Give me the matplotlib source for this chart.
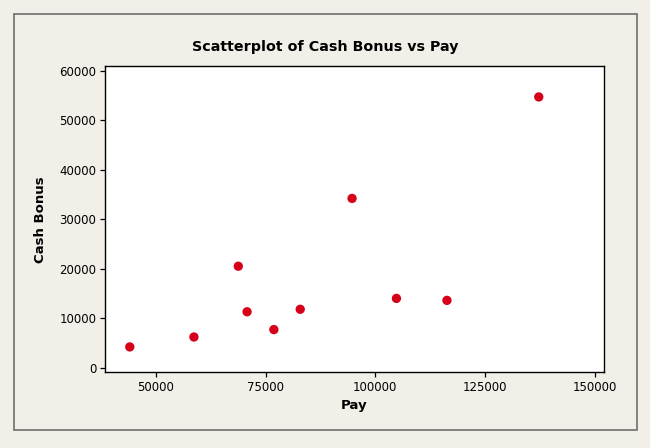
import matplotlib
matplotlib.use("Agg")
import matplotlib.pyplot as plt
from matplotlib.patches import Rectangle

# values
pay = [44100, 58700, 68800, 70800, 76900, 82900, 94700, 104800, 116300, 137200]
cash_bonus = [4200, 6200, 20500, 11300, 7700, 11800, 34200, 14000, 13600, 54700]
x_ticks = [50000, 75000, 100000, 125000, 150000]
y_ticks = [0, 10000, 20000, 30000, 40000, 50000, 60000]

plt.rcParams["font.family"] = ["DejaVu Sans"]

bg = "#f2efe9"
fig = plt.figure(figsize=(6.5, 4.48), dpi=100, facecolor=bg)

# outer frame
fig.patches.append(Rectangle((13.5 / 650, 1 - 429.5 / 448), (636.5 - 13.5) / 650,
                             (429.5 - 14.5) / 448, transform=fig.transFigure,
                             fill=False, edgecolor="#6e6e6e", linewidth=1.2))

ax = fig.add_axes([104.7 / 650, 1 - 372.3 / 448, (604 - 104.7) / 650, (372.3 - 66.3) / 448])
ax.set_facecolor("white")
ax.scatter(pay, cash_bonus, s=45, color="#d7001a", edgecolors="none", zorder=3)

ax.set_xlim(38390, 152050)
ax.set_ylim(-930, 60890)
ax.set_xticks(x_ticks)
ax.set_yticks(y_ticks)
ax.set_xticklabels([str(v) for v in x_ticks])
ax.set_yticklabels([str(v) for v in y_ticks])
ax.tick_params(direction="out", length=3.5, width=0.9, labelsize=8.5, pad=2.5, colors="black")
for s in ax.spines.values():
    s.set_linewidth(1.0)

ax.set_xlabel("Pay", fontsize=9.5, fontweight="bold", labelpad=4)
ax.set_ylabel("Cash Bonus", fontsize=9.5, fontweight="bold", labelpad=9)
fig.text(0.5, 1 - 46.5 / 448, "Scatterplot of Cash Bonus vs Pay", ha="center", va="center",
         fontsize=10.3, fontweight="bold")

fig.savefig("out.png", dpi=100, facecolor=bg)
